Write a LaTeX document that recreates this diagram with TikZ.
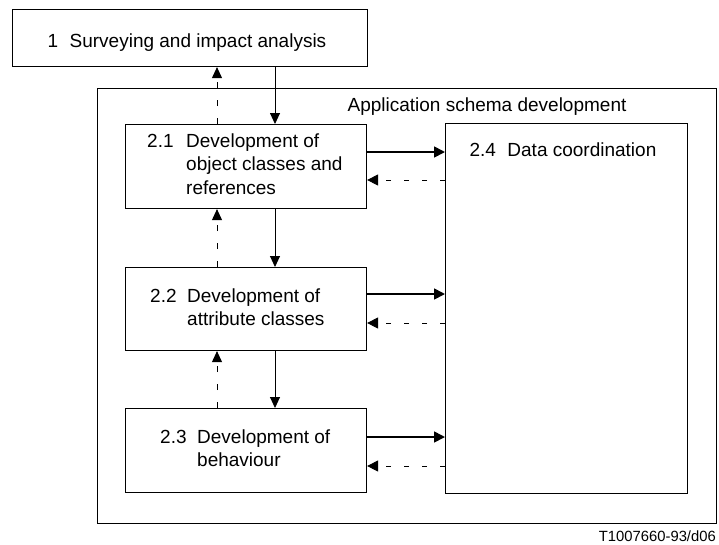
\documentclass[tikz,border=0pt]{standalone}
\usepackage{fontspec}
\setmainfont{Liberation Sans}
\usetikzlibrary{arrows.meta}
\begin{document}
\begin{tikzpicture}[x=1pt,y=-1pt,
  box/.style={draw,line width=1.1pt,inner sep=0pt,anchor=north west},
  lbl/.style={inner sep=0pt,font=\fontsize{19}{23.5}\selectfont},
  solidv/.style={line width=0.9pt,-{Triangle[length=11pt,width=10pt]}},
  solidh/.style={line width=1.7pt,-{Triangle[length=11pt,width=11pt]}},
  dashv/.style={line width=0.9pt,dash pattern=on 6pt off 12pt,-{Triangle[length=11pt,width=10pt]}},
  dashh/.style={line width=0.9pt,dash pattern=on 5pt off 13pt,-{Triangle[length=11pt,width=11pt]}}]
\useasboundingbox (0,0) rectangle (719,544);
% boxes
\node[box,minimum width=355pt,minimum height=57pt] (b1) at (12,9) {};
\node[box,minimum width=619pt,minimum height=435pt] (outer) at (97,88) {};
\node[box,minimum width=241pt,minimum height=84pt] (b21) at (125,124) {};
\node[box,minimum width=241pt,minimum height=83pt] (b22) at (125,267) {};
\node[box,minimum width=241pt,minimum height=84pt] (b23) at (125,408) {};
\node[box,minimum width=242pt,minimum height=370pt] (b24) at (445,123) {};
% texts
\node[lbl,anchor=base] (t1) at (187,47) {1\hspace{0.6em}Surveying and impact analysis};
\node[lbl,anchor=base] (tout) at (487,111) {Application schema development};
\node[lbl,anchor=base] (t24) at (563,156) {2.4\hspace{0.6em}Data coordination};
\node[lbl,anchor=base west] (t21) at (147,147) {\begin{tabular}[t]{@{}l@{}l@{}}\makebox[39pt][l]{2.1} & Development of\\ & object classes and\\ & references\end{tabular}};
\node[lbl,anchor=base west] (t22) at (150,302) {\begin{tabular}[t]{@{}l@{}l@{}}\makebox[37pt][l]{2.2} & Development of\\ & attribute classes\end{tabular}};
\node[lbl,anchor=base west] (t23) at (160,443) {\begin{tabular}[t]{@{}l@{}l@{}}\makebox[37pt][l]{2.3} & Development of\\ & behaviour\end{tabular}};
\node[inner sep=0pt,anchor=base east,font=\fontsize{14.8}{17}\selectfont] (foot) at (716,541) {T1007660-93/d06};
% column/row references
\coordinate (xs) at (275,0);
\coordinate (xd) at (217,0);
\coordinate (ys1) at (0,152);
\coordinate (yd1) at (0,180);
\coordinate (ys2) at (0,294);
\coordinate (yd2) at (0,323);
\coordinate (ys3) at (0,437);
\coordinate (yd3) at (0,466);
% vertical arrows
\draw[solidv] (b1.south -| xs) -- (b21.north -| xs);
\draw[solidv] (b21.south -| xs) -- (b22.north -| xs);
\draw[solidv] (b22.south -| xs) -- (b23.north -| xs);
\draw[dashv] (b21.north -| xd) -- (b1.south -| xd);
\draw[dashv] (b22.north -| xd) -- (b21.south -| xd);
\draw[dashv] (b23.north -| xd) -- (b22.south -| xd);
% horizontal arrows
\draw[solidh] (b21.east |- ys1) -- (b24.west |- ys1);
\draw[solidh] (b22.east |- ys2) -- (b24.west |- ys2);
\draw[solidh] (b23.east |- ys3) -- (b24.west |- ys3);
\draw[dashh] (b24.west |- yd1) -- (b21.east |- yd1);
\draw[dashh] (b24.west |- yd2) -- (b22.east |- yd2);
\draw[dashh] (b24.west |- yd3) -- (b23.east |- yd3);
\end{tikzpicture}
\end{document}
